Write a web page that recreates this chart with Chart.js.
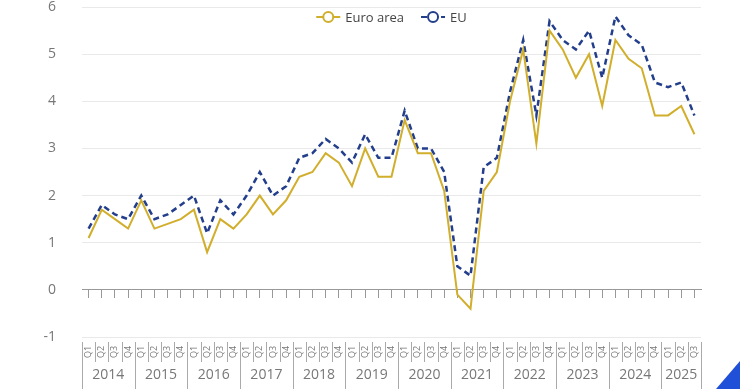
<!DOCTYPE html>
<html>
<head>
<meta charset="utf-8">
<script src="https://cdn.jsdelivr.net/npm/chart.js@4/dist/chart.umd.min.js"></script>
<style>
  html, body { margin: 0; padding: 0; background: #fff; }
  #chart { display: block; }
</style>
</head>
<body>
<canvas id="chart" width="740" height="389"></canvas>
<script>
// quarterly values, 2014 Q1 .. 2025 Q3
var years = ['2014', '2015', '2016', '2017', '2018', '2019', '2020', '2021', '2022', '2023', '2024', '2025'];
var quarters = ['Q1', 'Q2', 'Q3', 'Q4'];
var quartersLastYear = 3;

var euroArea = [1.1, 1.7, 1.5, 1.3, 1.9, 1.3, 1.4, 1.5, 1.7, 0.8, 1.5, 1.3,
  1.6, 2.0, 1.6, 1.9, 2.4, 2.5, 2.9, 2.7, 2.2, 3.0, 2.4, 2.4,
  3.6, 2.9, 2.9, 2.1, -0.1, -0.4, 2.1, 2.5, 4.0, 5.1, 3.1, 5.5,
  5.1, 4.5, 5.0, 3.9, 5.3, 4.9, 4.7, 3.7, 3.7, 3.9, 3.3];
var eu = [1.3, 1.8, 1.6, 1.5, 2.0, 1.5, 1.6, 1.8, 2.0, 1.2, 1.9, 1.6,
  2.0, 2.5, 2.0, 2.2, 2.8, 2.9, 3.2, 3.0, 2.7, 3.3, 2.8, 2.8,
  3.8, 3.0, 3.0, 2.5, 0.5, 0.3, 2.6, 2.8, 4.2, 5.3, 3.7, 5.7,
  5.3, 5.1, 5.5, 4.5, 5.8, 5.4, 5.2, 4.4, 4.3, 4.4, 3.7];

var labels = [];
years.forEach(function(y, yi) {
  var n = yi === years.length - 1 ? quartersLastYear : 4;
  for (var q = 0; q < n; q++) labels.push(y + ' ' + quarters[q]);
});

var gold = '#d1ae2b';
var navy = '#233f8c';
var font = "'Open Sans', 'Liberation Sans', sans-serif";

// legend drawn inside the plot, centred at the top
var legendPlugin = {
  id: 'topLegend',
  afterDraw: function(chart) {
    var ctx = chart.ctx;
    var area = chart.chartArea;
    var sets = chart.data.datasets;
    ctx.save();
    ctx.font = '13px ' + font;
    var markW = 24, gap = 5, itemGap = 17;
    var total = 0;
    sets.forEach(function(ds, i) {
      total += markW + gap + ctx.measureText(ds.label).width + (i ? itemGap : 0);
    });
    var x = (area.left + area.right) / 2 - total / 2;
    var y = 17;
    sets.forEach(function(ds) {
      ctx.strokeStyle = ds.borderColor;
      ctx.lineWidth = 2;
      ctx.setLineDash(ds.borderDash || []);
      ctx.beginPath();
      ctx.moveTo(x, y);
      ctx.lineTo(x + markW, y);
      ctx.stroke();
      ctx.setLineDash([]);
      ctx.fillStyle = '#fff';
      ctx.beginPath();
      ctx.arc(x + markW / 2, y, 5, 0, Math.PI * 2);
      ctx.fill();
      ctx.stroke();
      ctx.fillStyle = '#444';
      ctx.textAlign = 'left';
      ctx.textBaseline = 'middle';
      ctx.fillText(ds.label, x + markW + gap, y + 1);
      x += markW + gap + ctx.measureText(ds.label).width + itemGap;
    });
    ctx.restore();
  }
};

// two-row category table under the plot (quarters, then years)
var tablePlugin = {
  id: 'periodTable',
  afterDraw: function(chart) {
    var ctx = chart.ctx;
    var xs = chart.scales.x;
    var top = chart.chartArea.bottom + 5;
    var mid = top + 20;
    var bottom = chart.height;
    var step = xs.getPixelForValue(1) - xs.getPixelForValue(0);
    ctx.save();
    ctx.strokeStyle = '#aaa';
    ctx.lineWidth = 1;
    ctx.fillStyle = '#777';
    var i = 0;
    years.forEach(function(y, yi) {
      var n = yi === years.length - 1 ? quartersLastYear : 4;
      var first = i;
      for (var q = 0; q < n; q++, i++) {
        var cx = xs.getPixelForValue(i);
        var bx = Math.round(cx - step / 2) + 0.5;
        ctx.beginPath();
        ctx.moveTo(bx, top);
        ctx.lineTo(bx, q === 0 ? bottom : mid);
        ctx.stroke();
        ctx.save();
        ctx.translate(cx, (top + mid) / 2);
        ctx.rotate(-Math.PI / 2);
        ctx.font = '9px ' + font;
        ctx.textAlign = 'center';
        ctx.textBaseline = 'middle';
        ctx.fillText(quarters[q], 0, 0);
        ctx.restore();
      }
      var yc = (xs.getPixelForValue(first) + xs.getPixelForValue(i - 1)) / 2;
      ctx.font = '14px ' + font;
      ctx.textAlign = 'center';
      ctx.textBaseline = 'middle';
      ctx.fillText(y, yc, (mid + bottom) / 2);
    });
    var ex = Math.round(xs.getPixelForValue(i - 1) + step / 2) + 0.5;
    ctx.beginPath();
    ctx.moveTo(ex, top);
    ctx.lineTo(ex, bottom);
    ctx.stroke();
    // blue corner shape bottom right
    ctx.fillStyle = '#2150d8';
    ctx.beginPath();
    ctx.moveTo(740, 361);
    ctx.lineTo(740, 389);
    ctx.lineTo(716, 389);
    ctx.closePath();
    ctx.fill();
    ctx.restore();
  }
};

var chartArea = document.getElementById('chart').getContext('2d');
var myChart = new Chart(chartArea, {
  type: 'line',
  data: {
    labels: labels,
    datasets: [{
      label: 'Euro area',
      data: euroArea,
      borderColor: gold,
      backgroundColor: gold,
      borderWidth: 2,
      pointRadius: 0,
      tension: 0
    }, {
      label: 'EU',
      data: eu,
      borderColor: navy,
      backgroundColor: navy,
      borderWidth: 2.5,
      borderDash: [6, 4],
      pointRadius: 0,
      tension: 0
    }]
  },
  options: {
    responsive: false,
    animation: false,
    layout: { padding: { left: 0, right: 39, top: 7, bottom: 52 } },
    plugins: {
      legend: { display: false },
      tooltip: { enabled: false }
    },
    scales: {
      x: {
        position: { y: 0 },
        offset: true,
        grid: { drawOnChartArea: false, drawTicks: true, tickLength: 8, color: '#999' },
        border: { color: '#999' },
        ticks: { display: false }
      },
      y: {
        min: -1,
        max: 6,
        afterFit: function(scale) {
          scale.width = 82;
          // tick padding would otherwise be added above and below the axis
          scale.paddingTop = 0;
          scale.paddingBottom = 0;
        },
        grid: { color: '#e9e9e9', drawTicks: false },
        border: { display: false },
        ticks: { stepSize: 1, padding: 26, color: '#777', font: { size: 14, family: font } }
      }
    }
  },
  plugins: [legendPlugin, tablePlugin]
});
</script>
</body>
</html>
